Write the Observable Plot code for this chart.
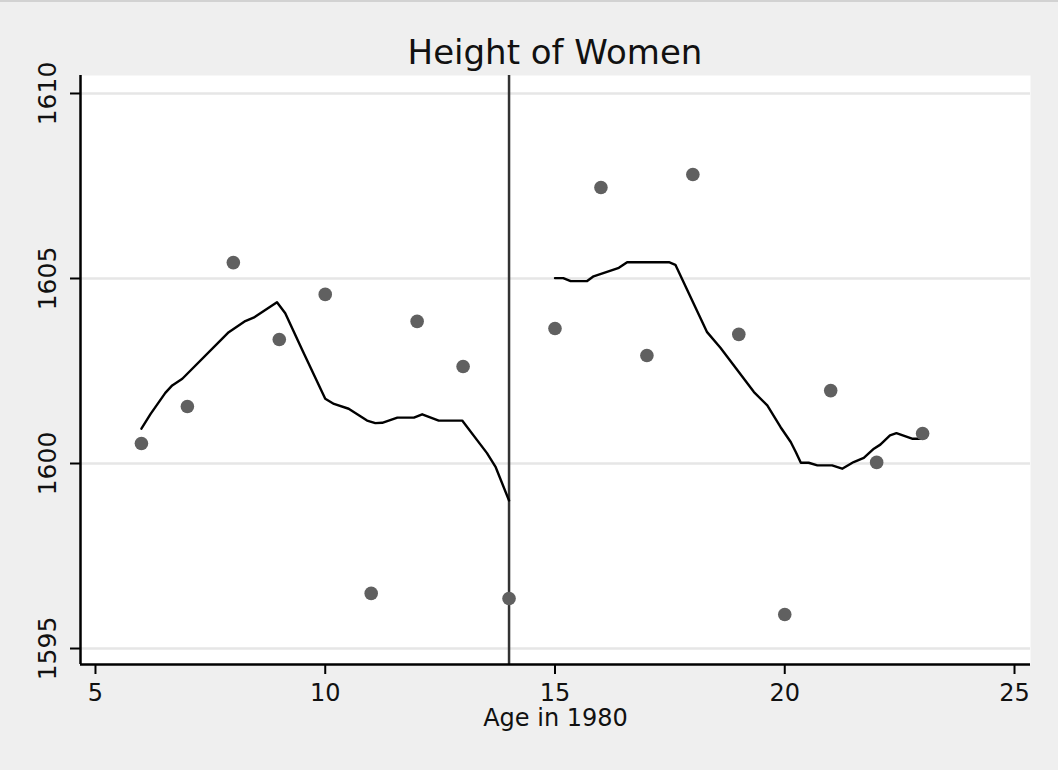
<!DOCTYPE html>
<html><head><meta charset="utf-8">
<script src="https://cdn.jsdelivr.net/npm/d3@7"></script>
<script src="https://cdn.jsdelivr.net/npm/@observablehq/plot@0.6"></script>
<style>
html,body{margin:0;padding:0;background:#efefef;}
#wrap{width:1058px;height:770px;position:relative;overflow:hidden;background:#efefef;}
#topline{position:absolute;left:0;top:0;width:1058px;height:2px;background:#d2d2d2;}
#title{height:50px;box-sizing:border-box;padding-left:80px;padding-right:28px;text-align:center;
  font-family:"DejaVu Sans",Verdana,sans-serif;
  font-size:34px;line-height:34px;padding-top:35px;color:#111;white-space:nowrap;}
#chart svg{display:block;}
</style></head><body>
<div id="wrap"><div id="topline"></div><div id="title">Height of Women</div><div id="chart"></div></div>
<script>
// Scatter points
const ages = [6,7,8,9,10,11,12,13,14,15,16,17,18,19,20,21,22,23];
const heights = [1600.54,1601.54,1605.43,1603.35,1604.57,1596.49,1603.84,1602.62,1596.35,
                 1603.65,1607.46,1602.92,1607.81,1603.49,1595.92,1601.97,1600.03,1600.81];
// Smoothed fit, before cutoff (age <= 14)
const leftAge = [6.0,6.2,6.52,6.67,6.89,7.9,8.26,8.44,8.95,9.13,9.5,10.0,10.19,10.51,10.91,11.09,11.24,11.57,11.93,12.11,12.47,12.98,13.52,13.71,14.0];
const leftFit = [1600.94,1601.34,1601.91,1602.11,1602.29,1603.55,1603.85,1603.94,1604.36,1604.06,1603.07,1601.75,1601.61,1601.48,1601.16,1601.09,1601.10,1601.24,1601.24,1601.33,1601.16,1601.16,1600.28,1599.90,1599.0];
// Smoothed fit, after cutoff
const rightAge = [15.0,15.18,15.34,15.7,15.84,16.39,16.57,17.48,17.62,18.31,18.6,19.33,19.62,19.91,20.13,20.24,20.35,20.52,20.71,21.03,21.25,21.5,21.72,21.94,22.08,22.29,22.43,22.77,23.0];
const rightFit = [1605.01,1605.01,1604.93,1604.93,1605.06,1605.29,1605.44,1605.44,1605.37,1603.55,1603.13,1601.93,1601.57,1600.98,1600.58,1600.31,1600.02,1600.02,1599.95,1599.95,1599.86,1600.04,1600.15,1600.40,1600.51,1600.76,1600.82,1600.67,1600.67];
const cutoff = [14];
const xTicks = [5,10,15,20,25];
const yTicks = [1595,1600,1605,1610];
const xDomain = [4.674, 25.348];
const yDomain = [1594.568, 1610.486];

const points = ages.map((a,i)=>({age:a, height:heights[i]}));
const fit = [
  ...leftAge.map((a,i)=>({age:a, fit:leftFit[i], seg:"left"})),
  ...rightAge.map((a,i)=>({age:a, fit:rightFit[i], seg:"right"}))
];

const font = '"DejaVu Sans",Verdana,sans-serif';

const chart = Plot.plot({
  width: 1058, height: 720,
  marginTop: 25, marginBottom: 106, marginLeft: 80, marginRight: 28,
  style: {background: "transparent", overflow: "visible"},
  x: {domain: xDomain},
  y: {domain: yDomain},
  marks: [
    Plot.frame({fill: "white", stroke: null}),
    Plot.ruleY(yTicks, {stroke: "#e6e6e6", strokeWidth: 2.5}),
    Plot.ruleX(cutoff, {stroke: "#333", strokeWidth: 2.5}),
    Plot.line(fit, {x: "age", y: "fit", z: "seg", stroke: "#000", strokeWidth: 2.4}),
    Plot.dot(points, {x: "age", y: "height", r: 6.8, fill: "#606060", stroke: null}),
    Plot.ruleX([xDomain[0]], {stroke: "#000", strokeWidth: 2.5}),
    Plot.ruleY([yDomain[0]], {stroke: "#000", strokeWidth: 2.5}),
    Plot.axisY({ticks: yTicks, tickSize: 10, tickPadding: 15, tickRotate: -90, label: null,
      tickFormat: d => String(d),
      fontSize: 25, fontFamily: font, stroke: "#000", strokeWidth: 2, fill: "#111"}),
    Plot.axisX({ticks: xTicks, tickSize: 10, tickPadding: 9, label: null,
      tickFormat: d => String(d),
      fontSize: 24, fontFamily: font, stroke: "#000", strokeWidth: 2, fill: "#111"}),
    Plot.text(["Age in 1980"], {frameAnchor: "bottom", dy: 61, fontSize: 24, fontFamily: font, fill: "#111"})
  ]
});
document.getElementById("chart").appendChild(chart);
</script>
</body></html>
